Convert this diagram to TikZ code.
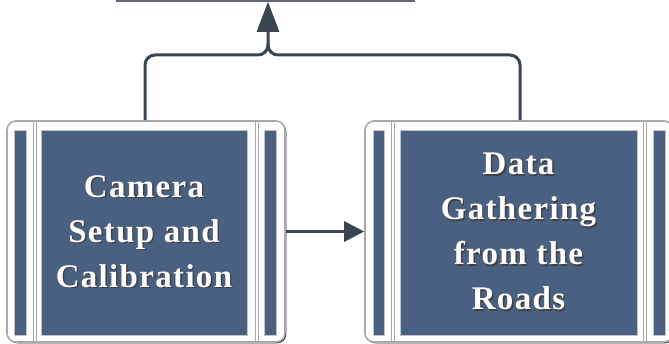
\documentclass[tikz,border=0pt]{standalone}
\usepackage{fontspec}
\setmainfont{Liberation Serif}
\newfontfamily\labelfont[LetterSpace=4]{Liberation Serif}
\usetikzlibrary{arrows.meta,shadows}

\definecolor{slate}{HTML}{4A6080}
\definecolor{wire}{HTML}{3B4452}
\definecolor{rim}{HTML}{A9A9A9}

% white letters with a soft dark shadow
\newcommand\shadowed[1]{%
  \makebox[0pt][l]{\hspace{1.4pt}\raisebox{-1.4pt}{\textcolor{black!75}{#1}}}%
  \textcolor{white}{#1}}

\tikzset{
  outerbox/.style={draw=rim, fill=white, line width=1.6pt, rounded corners=9pt,
    drop shadow={shadow xshift=1.3pt, shadow yshift=-1.3pt, fill=black!80, opacity=1},
    inner sep=0pt},
  panel/.style={fill=slate, draw=rim!70, line width=0.6pt, inner sep=0pt,
    font=\labelfont\bfseries\fontsize{33}{45}\selectfont, align=center},
  sidebar/.style={fill=slate, draw=rim!70, line width=0.6pt},
  divider/.style={draw=rim, line width=0.9pt},
  wireline/.style={draw=wire, line width=3pt},
  tip/.style={-{Triangle[length=30pt,width=22pt]}},
  smalltip/.style={-{Triangle[length=20pt,width=20pt]}},
}

\begin{document}
\begin{tikzpicture}[x=1pt,y=-1pt]
\useasboundingbox (0,0) rectangle (669,344);
\clip (0,0) rectangle (669,344);

% box above, only its lower edge is in view
\node[draw=wire!80, line width=1.6pt, fill=white, minimum width=297pt, minimum height=40pt,
  inner sep=0pt] (target) at (265.5,-19) {};

% left step: camera setup
\node[outerbox, minimum width=278pt, minimum height=221pt] (camout) at (146,231.5) {};
\fill[sidebar] (14,130) rectangle (26,335);
\fill[sidebar] (264,130) rectangle (276,335);
\draw[divider] (33,122) -- (33,341) (36.5,122) -- (36.5,341);
\draw[divider] (255,122) -- (255,341) (258.5,122) -- (258.5,341);
\node[panel, minimum width=206pt, minimum height=205pt] (cam) at (144,232.5)
  {\shadowed{Camera}\\\shadowed{Setup and}\\\shadowed{Calibration}};

% right step: data gathering
\node[outerbox, minimum width=308pt, minimum height=221pt] (dataout) at (519,231.5) {};
\fill[sidebar] (373,130) rectangle (384,335);
\fill[sidebar] (653,130) rectangle (665,335);
\draw[divider] (391,122) -- (391,341) (394.5,122) -- (394.5,341);
\draw[divider] (643,122) -- (643,341) (646.5,122) -- (646.5,341);
\node[panel, minimum width=237pt, minimum height=205pt] (data) at (518.5,232.5)
  {\shadowed{Data}\\\shadowed{Gathering}\\\shadowed{from the}\\\shadowed{Roads}};

% connectors
\coordinate (junc) at (268,55);
\draw[wireline, rounded corners=10pt] (camout.north -| 145,0) |- (junc) -- ++(0,-12);
\draw[wireline, tip, rounded corners=10pt] (dataout.north -| 520,0) |- (junc) -- (junc |- target.south);
\draw[wireline, smalltip] (camout.east) -- (dataout.west);
\end{tikzpicture}
\end{document}
